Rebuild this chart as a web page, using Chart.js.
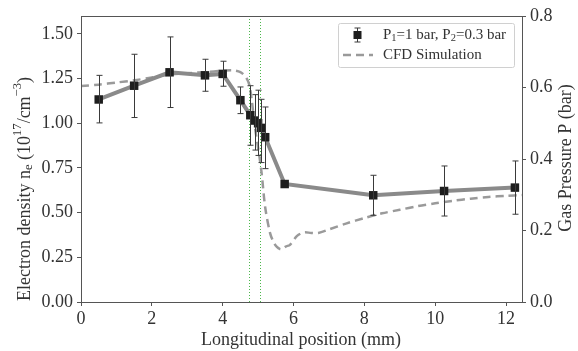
<!DOCTYPE html>
<html>
<head>
<meta charset="utf-8">
<script src="https://cdn.jsdelivr.net/npm/chart.js@4.4.1/dist/chart.umd.min.js"></script>
<style>
  html, body { margin: 0; padding: 0; background: #fff; }
</style>
</head>
<body>
<canvas id="chart" width="578" height="351"></canvas>
<script>
// Measured electron density (10^17 cm^-3) with error bars
const posMeasured = [0.5, 1.5, 2.5, 3.5, 4.0, 4.5, 4.78, 4.9, 5.0, 5.08, 5.2, 5.75, 8.25, 10.25, 12.25];
const neMeasured = [1.133, 1.21, 1.285, 1.268, 1.276, 1.129, 1.045, 1.015, 1.0, 0.974, 0.922, 0.66, 0.597, 0.621, 0.64];
const neErrHigh = [1.268, 1.386, 1.483, 1.358, 1.347, 1.203, 1.21, 1.16, 1.185, 1.134, 1.091, 0.66, 0.709, 0.761, 0.789];
const neErrLow = [1.002, 1.032, 1.088, 1.179, 1.207, 1.054, 0.877, 0.85, 0.82, 0.78, 0.746, 0.66, 0.485, 0.481, 0.491];

// CFD simulated gas pressure (bar)
const posCfd = [0, 0.5, 1.0, 1.5, 2.0, 2.5, 3.0, 3.5, 4.0, 4.3, 4.5, 4.65, 4.75, 4.82, 4.91, 5.04, 5.1, 5.2, 5.34, 5.45, 5.53, 5.62, 5.68, 5.78, 5.9, 6.1, 6.3, 6.5, 6.7, 7.0, 7.5, 8.0, 8.5, 9.0, 9.5, 10.0, 10.5, 11.0, 11.5, 12.0, 12.45];
const pressureCfd = [0.604, 0.608, 0.614, 0.62, 0.628, 0.636, 0.64, 0.643, 0.647, 0.648, 0.643, 0.63, 0.608, 0.565, 0.49, 0.405, 0.36, 0.265, 0.192, 0.165, 0.154, 0.148, 0.148, 0.155, 0.16, 0.185, 0.195, 0.193, 0.193, 0.203, 0.22, 0.235, 0.248, 0.258, 0.268, 0.276, 0.283, 0.289, 0.294, 0.297, 0.299];

// Nozzle boundary markers (mm)
const nozzleLines = [4.75, 5.06];

// Tick values
const xTicks = [0, 2, 4, 6, 8, 10, 12];
const neTicks = [0, 0.25, 0.5, 0.75, 1.0, 1.25, 1.5];
const pTicks = [0, 0.2, 0.4, 0.6, 0.8];

const FONT = "'Liberation Serif', 'Times New Roman', serif";
const TEXT = "#333";
const AXIS = "#555";

// draw text with sub/superscript pieces
function richWidth(ctx, parts, size) {
  let w = 0;
  parts.forEach(([t, kind]) => {
    ctx.font = (kind ? size * 0.7 : size) + "px " + FONT;
    w += ctx.measureText(t).width;
  });
  return w;
}
function drawRich(ctx, parts, x, y, size, align) {
  let cx = align === "left" ? x : x - richWidth(ctx, parts, size) / 2;
  ctx.textBaseline = "middle";
  ctx.textAlign = "left";
  parts.forEach(([t, kind]) => {
    ctx.font = (kind ? size * 0.7 : size) + "px " + FONT;
    let dy = kind === "sub" ? size * 0.22 : kind === "sup" ? -size * 0.38 : 0;
    ctx.fillText(t, cx, y + dy);
    cx += ctx.measureText(t).width;
  });
}

const extras = {
  id: "extras",
  beforeDatasetsDraw(chart) {
    // nozzle lines, under the data
    const { ctx, scales } = chart;
    const area = chart.chartArea;
    ctx.save();
    ctx.strokeStyle = "#4cb84c";
    ctx.lineWidth = 1;
    ctx.setLineDash([1, 2]);
    nozzleLines.forEach(v => {
      const x = Math.round(scales.x.getPixelForValue(v)) + 0.5;
      ctx.beginPath();
      ctx.moveTo(x, area.top); ctx.lineTo(x, area.bottom);
      ctx.stroke();
    });
    ctx.restore();
  },
  afterDatasetsDraw(chart) {
    const { ctx, scales } = chart;
    const xs = scales.x, ys = scales.y;
    // error bars
    ctx.save();
    ctx.strokeStyle = "#3a3a3a";
    ctx.lineWidth = 1;
    posMeasured.forEach((p, i) => {
      if (neErrHigh[i] <= neErrLow[i]) return;
      const x = Math.round(xs.getPixelForValue(p)) + 0.5;
      const y1 = ys.getPixelForValue(neErrHigh[i]);
      const y2 = ys.getPixelForValue(neErrLow[i]);
      ctx.beginPath();
      ctx.moveTo(x, y1); ctx.lineTo(x, y2);
      ctx.moveTo(x - 3, y1); ctx.lineTo(x + 3, y1);
      ctx.moveTo(x - 3, y2); ctx.lineTo(x + 3, y2);
      ctx.stroke();
    });
    ctx.restore();
  },
  afterDraw(chart) {
    const { ctx } = chart;
    const a = chart.chartArea;
    ctx.save();
    // frame
    ctx.strokeStyle = AXIS;
    ctx.lineWidth = 1;
    ctx.strokeRect(a.left + 0.5, a.top + 0.5, a.right - a.left, a.bottom - a.top);

    // axis titles
    ctx.fillStyle = TEXT;
    ctx.save();
    ctx.translate(25, 189);
    ctx.rotate(-Math.PI / 2);
    drawRich(ctx, [["Electron density n", ""], ["e", "sub"], [" (10", ""], ["17", "sup"], ["/cm", ""], ["\u22123", "sup"], [")", ""]], 0, 0, 18, "center");
    ctx.restore();
    ctx.save();
    ctx.translate(566, 158);
    ctx.rotate(-Math.PI / 2);
    drawRich(ctx, [["Gas Pressure P (bar)", ""]], 0, 0, 18, "center");
    ctx.restore();
    drawRich(ctx, [["Longitudinal position (mm)", ""]], 301, 340, 18, "center");

    // legend
    const lx = 338.5, ly = 23.5, lw = 176, lh = 44;
    ctx.fillStyle = "rgba(255,255,255,0.85)";
    ctx.strokeStyle = "#d0d0d0";
    ctx.beginPath();
    ctx.roundRect(lx, ly, lw, lh, 2);
    ctx.fill();
    ctx.stroke();
    // measured entry
    const mx = 357.5, my = 35;
    ctx.strokeStyle = "#3a3a3a";
    ctx.beginPath();
    ctx.moveTo(mx, my - 7); ctx.lineTo(mx, my + 7);
    ctx.moveTo(mx - 3, my - 7); ctx.lineTo(mx + 3, my - 7);
    ctx.moveTo(mx - 3, my + 7); ctx.lineTo(mx + 3, my + 7);
    ctx.stroke();
    ctx.fillStyle = "#1e1e1e";
    ctx.fillRect(mx - 4, my - 4, 8, 8);
    ctx.fillStyle = TEXT;
    drawRich(ctx, [["P", ""], ["1", "sub"], ["=1 bar, P", ""], ["2", "sub"], ["=0.3 bar", ""]], 383, my, 15, "left");
    // cfd entry
    ctx.strokeStyle = "#9a9a9a";
    ctx.lineWidth = 2.5;
    ctx.setLineDash([8, 5]);
    ctx.beginPath();
    ctx.moveTo(343, 55); ctx.lineTo(373, 55);
    ctx.stroke();
    ctx.setLineDash([]);
    drawRich(ctx, [["CFD Simulation", ""]], 383, 55, 15, "left");
    ctx.restore();
  }
};

const tickFont = { family: FONT, size: 18 };
const axisGrid = { display: true, drawOnChartArea: false, drawTicks: true, tickLength: 4, color: AXIS };
const axisBorder = { display: true, color: AXIS, width: 1 };

new Chart(document.getElementById("chart"), {
  type: "line",
  data: {
    datasets: [
      {
        label: "P1=1 bar, P2=0.3 bar",
        data: posMeasured.map((p, i) => ({ x: p, y: neMeasured[i] })),
        yAxisID: "y",
        borderColor: "#8a8a8a",
        borderWidth: 4,
        pointStyle: "rect",
        pointRadius: 6,
        pointBackgroundColor: "#1e1e1e",
        pointBorderColor: "#1e1e1e",
        pointBorderWidth: 0,
        tension: 0,
        order: 0
      },
      {
        label: "CFD Simulation",
        data: posCfd.map((p, i) => ({ x: p, y: pressureCfd[i] })),
        yAxisID: "y2",
        borderColor: "#9a9a9a",
        borderWidth: 2.5,
        borderDash: [8, 5],
        pointRadius: 0,
        tension: 0.3,
        order: 1
      }
    ]
  },
  options: {
    responsive: false,
    animation: false,
    layout: { padding: { top: 16, right: 0, left: 0, bottom: 0 } },
    plugins: { legend: { display: false }, tooltip: { enabled: false } },
    scales: {
      x: {
        type: "linear",
        min: 0,
        max: 12.45,
        grid: axisGrid,
        border: axisBorder,
        afterBuildTicks: s => { s.ticks = xTicks.map(v => ({ value: v })); },
        ticks: { font: tickFont, color: TEXT, padding: 2, maxRotation: 0, callback: v => String(v) },
        afterFit: s => { s.height = 49; }
      },
      y: {
        position: "left",
        min: 0,
        max: 1.6,
        grid: axisGrid,
        border: axisBorder,
        afterBuildTicks: s => { s.ticks = neTicks.map(v => ({ value: v })); },
        ticks: { font: tickFont, color: TEXT, padding: 4, callback: v => v.toFixed(2) },
        afterFit: s => { s.width = 81; }
      },
      y2: {
        position: "right",
        min: 0,
        max: 0.8,
        grid: axisGrid,
        border: axisBorder,
        afterBuildTicks: s => { s.ticks = pTicks.map(v => ({ value: v })); },
        ticks: { font: tickFont, color: TEXT, padding: 4, callback: v => v.toFixed(1) },
        afterFit: s => { s.width = 56; }
      }
    }
  },
  plugins: [extras]
});
</script>
</body>
</html>
